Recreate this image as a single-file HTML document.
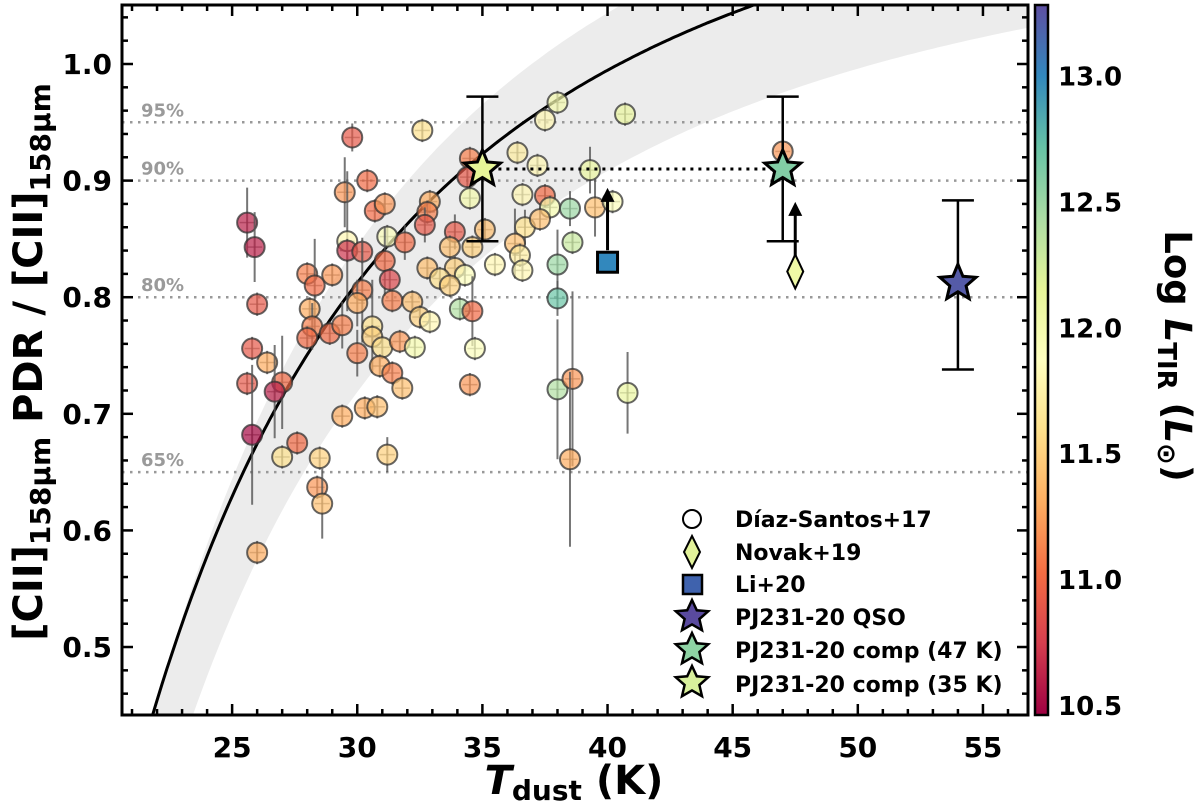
<!DOCTYPE html>
<html><head><meta charset="utf-8"><style>
html,body{margin:0;padding:0;background:#fff;width:1200px;height:805px;overflow:hidden;}
#wrap{position:relative;width:1200px;height:805px;overflow:hidden;}
svg{display:block;font-family:"DejaVu Sans","Liberation Sans",sans-serif;font-weight:bold;}
</style></head><body>
<div id="wrap">
<svg id="chart" width="1200" height="805" viewBox="0 0 1200 805" xmlns="http://www.w3.org/2000/svg" style="position:absolute;left:0;top:0"></svg>
<svg width="1200" height="805" style="position:absolute;left:0;top:0" xmlns="http://www.w3.org/2000/svg" font-family="DejaVu Sans, Liberation Sans, sans-serif" font-weight="bold">
 <text x="574" y="794" font-size="40" text-anchor="middle"><tspan font-style="italic">T</tspan><tspan font-size="28" dy="6">dust</tspan><tspan dy="-6"> (K)</tspan></text>
 <text transform="translate(42,362) rotate(-90)" font-size="40" text-anchor="middle">[CII]<tspan font-size="28" dy="8">158μm</tspan><tspan dy="-8"> PDR / [CII]</tspan><tspan font-size="28" dy="8">158μm</tspan></text>
 <text transform="translate(1165,356) rotate(90)" font-size="37" text-anchor="middle">Log <tspan font-style="italic">L</tspan><tspan font-size="26" dy="7">TIR</tspan><tspan dy="-7"> (</tspan><tspan font-style="italic">L</tspan><tspan font-size="26" dy="7">⊙</tspan><tspan dy="-7">)</tspan></text>
 <g font-size="22">
  <g><circle cx="692" cy="519" r="9" fill="#fff" stroke="#000" stroke-width="2"/><text x="735" y="527">Díaz-Santos+17</text></g>
  <g><path d="M692,536L700,552L692,568L684,552Z" fill="#e2f29a" stroke="#000" stroke-width="2"/><text x="735" y="560">Novak+19</text></g>
  <g><rect x="683" y="575" width="19" height="19" fill="#3f62ad" stroke="#000" stroke-width="2.5"/><text x="735" y="592">Li+20</text></g>
  <g><path d="M692,600L696.8,610.3L708.2,611.3L699.4,619L702,630.2L692,624.4L682,630.2L684.6,619L675.8,611.3L687.2,610.3Z" fill="#5a4a9f" stroke="#000" stroke-width="2.5"/><text x="735" y="625">PJ231-20 QSO</text></g>
  <g><path d="M692,633L696.8,643.3L708.2,644.3L699.4,652L702,663.2L692,657.4L682,663.2L684.6,652L675.8,644.3L687.2,643.3Z" fill="#8ed3a4" stroke="#000" stroke-width="2.5"/><text x="735" y="658">PJ231-20 comp (47 K)</text></g>
  <g><path d="M692,666L696.8,676.3L708.2,677.3L699.4,685L702,696.2L692,690.4L682,696.2L684.6,685L675.8,677.3L687.2,676.3Z" fill="#d8f09c" stroke="#000" stroke-width="2.5"/><text x="735" y="692">PJ231-20 comp (35 K)</text></g>
 </g>
</svg>
</div>
<script>
// ---- data ----
const dsT = [29.8,30.4,29.5,30.7,31.1,25.6,25.9,29.6,29.6,30.2,31.2,31.9,31.1,31.3,28.0,28.3,29.0,26.0,30.2,30.0,31.4,32.2,28.1,28.2,28.0,28.9,29.4,30.6,30.6,31.0,31.7,25.8,26.4,27.0,25.6,26.7,30.0,30.9,31.4,31.8,29.4,30.3,30.8,25.8,27.6,27.0,28.5,31.2,28.4,28.6,26.0,
32.6,38.0,37.5,40.7,34.5,36.4,37.2,34.4,34.5,36.6,37.5,37.7,38.5,39.3,39.5,32.9,32.8,32.7,33.9,35.1,36.7,37.3,38.6,33.7,34.6,36.3,36.5,35.5,36.6,38.0,32.8,33.9,34.3,33.3,33.7,38.0,34.1,34.6,32.5,32.9,32.3,34.7,34.5,38.0,38.6,38.5,40.8,40.2,47.0];
const dsY = [0.937,0.900,0.890,0.874,0.880,0.864,0.843,0.848,0.840,0.839,0.852,0.847,0.831,0.815,0.820,0.810,0.819,0.794,0.806,0.795,0.797,0.796,0.790,0.775,0.765,0.769,0.776,0.775,0.766,0.757,0.762,0.756,0.744,0.727,0.726,0.719,0.752,0.741,0.735,0.722,0.698,0.705,0.706,0.682,0.675,0.663,0.662,0.665,0.637,0.623,0.581,
0.943,0.967,0.952,0.957,0.919,0.924,0.913,0.903,0.885,0.888,0.887,0.877,0.876,0.909,0.877,0.882,0.873,0.862,0.856,0.858,0.860,0.867,0.847,0.843,0.843,0.846,0.836,0.828,0.823,0.828,0.825,0.825,0.819,0.816,0.810,0.799,0.790,0.788,0.783,0.779,0.757,0.756,0.725,0.721,0.730,0.661,0.718,0.882,0.925];
const dsL = [10.9,11.0,11.2,11.0,11.2,10.6,10.6,11.8,10.7,10.9,11.9,11.0,11.0,10.8,11.1,11.0,11.2,10.9,11.1,11.3,11.1,11.4,11.3,11.1,11.0,11.0,11.1,11.6,11.5,11.6,11.2,10.9,11.3,11.0,10.9,10.6,11.1,11.3,11.1,11.4,11.3,11.3,11.4,10.5,11.0,11.6,11.5,11.5,11.2,11.4,11.3,
11.6,12.0,11.8,12.1,11.1,11.7,11.8,10.9,12.0,11.8,11.0,12.0,12.5,12.1,11.4,11.3,11.1,10.9,10.9,11.4,11.6,11.4,12.3,11.4,11.5,11.4,11.7,11.8,11.8,12.5,11.4,11.5,11.9,11.6,11.5,12.7,12.4,11.0,11.5,11.8,12.0,11.9,11.2,12.4,11.2,11.3,12.1,11.9,11.2];
const dsErr = [0.012,0.01,0.03,0.01,0.01,0.03,0.03,0.06,0.01,0.01,0.01,0.015,0.03,0.01,0.01,0.04,0.01,0.01,0.045,0.02,0.01,0.01,0.01,0.02,0.01,0.01,0.02,0.04,0.01,0.01,0.01,0.01,0.01,0.04,0.01,0.04,0.02,0.01,0.01,0.01,0.01,0.01,0.01,0.06,0.01,0.01,0.01,0.015,0.01,0.03,0.01,
0.01,0.01,0.01,0.01,0.01,0.01,0.01,0.01,0.01,0.01,0.01,0.01,0.015,0.02,0.025,0.01,0.01,0.015,0.015,0.01,0.015,0.01,0.01,0.01,0.01,0.03,0.01,0.01,0.01,0.03,0.01,0.01,0.01,0.01,0.01,0.015,0.01,0.03,0.01,0.01,0.01,0.01,0.01,0.06,0.075,0.075,0.035,0.01,0.01];
const novak = {T:47.5, y:0.822, L:12.05, lim:0.88};
const li20 = {T:40.0, y:0.830, L:13.0, lim:0.892};
const qso = {T:54.0, y:0.812, L:13.22, lo:0.738, hi:0.883};
const comp47 = {T:47.0, y:0.910, L:12.6, lo:0.848, hi:0.972};
const comp35 = {T:35.0, y:0.910, L:12.15, lo:0.848, hi:0.972};
const xTicks = [25,30,35,40,45,50,55];
const yTicks = [0.5,0.6,0.7,0.8,0.9,1.0];
const cbTicks = [10.5,11.0,11.5,12.0,12.5,13.0];
const pctLines = [0.95,0.90,0.80,0.65];
const pctLabels = ["95%","90%","80%","65%"];

// ---- scales ----
const PL=122, PR=1028, PT=5, PB=715;
const X0=20.6, X1=56.8, Y0=0.4417, Y1=1.0506;
const sx = t => PL + (t-X0)/(X1-X0)*(PR-PL);
const sy = v => PB - (v-Y0)/(Y1-Y0)*(PB-PT);
const CB={x:1035,w:13,t:5,b:715,v0:10.46,v1:13.28};
const cy = v => CB.b - (v-CB.v0)/(CB.v1-CB.v0)*(CB.b-CB.t);
const stops=["#9e0142","#d53e4f","#f46d43","#fdae61","#fee08b","#ffffbf","#e6f598","#abdda4","#66c2a5","#3288bd","#5e4fa2"];
function hex(h){return [1,3,5].map(i=>parseInt(h.substr(i,2),16));}
function cmap(v){let f=(v-CB.v0)/(CB.v1-CB.v0);f=Math.max(0,Math.min(1,f))*10;const i=Math.min(9,Math.floor(f)),r=f-i;const a=hex(stops[i]),b=hex(stops[i+1]);return "rgb("+a.map((c,k)=>Math.round(c+(b[k]-c)*r)).join(",")+")";}

const svg=document.getElementById('chart');
const NS="http://www.w3.org/2000/svg";
function el(tag,attrs,parent){const e=document.createElementNS(NS,tag);for(const k in attrs)e.setAttribute(k,attrs[k]);(parent||svg).appendChild(e);return e;}

const defs=el('defs',{});
const cp=el('clipPath',{id:'clip'},defs);el('rect',{x:PL,y:PT,width:PR-PL,height:PB-PT},cp);
const plot=el('g',{'clip-path':'url(#clip)'});



const upper=t=>1.30-410/(t*t), lower=t=>1.152-390/(t*t);
let d="";for(let t=20.6;t<=56.8;t+=0.2)d+=(d?"L":"M")+sx(t).toFixed(1)+","+sy(Math.min(upper(t),1.2)).toFixed(1);
for(let t=56.8;t>=20.6;t-=0.2)d+="L"+sx(t).toFixed(1)+","+sy(Math.max(lower(t),0.3)).toFixed(1);
const band=el('path',{d:d+"Z",fill:"#ececec"},plot);



pctLines.forEach((v,i)=>{
 const l=el('line',{x1:PL,x2:PR,y1:sy(v),y2:sy(v),stroke:"#999","stroke-width":2.5,"stroke-dasharray":"2.5,5.5"},plot);
 
 
 const t=el('text',{x:141,y:sy(v)-6,fill:"#9a9a9a","font-size":18},plot);t.textContent=pctLabels[i];
 
 
});

const curve=t=>1.229-375/(t*t);
d="";for(let t=21;t<=50;t+=0.1)d+=(d?"L":"M")+sx(t).toFixed(1)+","+sy(curve(t)).toFixed(1);
const cv=el('path',{d:d,fill:"none",stroke:"#000","stroke-width":3},plot);



for(let i=0;i<dsT.length;i++){
 const g=el('g',{},plot);
 
 
 el('line',{x1:sx(dsT[i]),x2:sx(dsT[i]),y1:sy(dsY[i]-dsErr[i]),y2:sy(dsY[i]+dsErr[i]),stroke:"#555","stroke-width":2,opacity:0.8},g);
 el('line',{x1:sx(dsT[i]-0.3),x2:sx(dsT[i]+0.3),y1:sy(dsY[i]),y2:sy(dsY[i]),stroke:"#555","stroke-width":1.5,opacity:0.6},g);
 el('circle',{cx:sx(dsT[i]),cy:sy(dsY[i]),r:10,fill:cmap(dsL[i]),"fill-opacity":0.7,stroke:"#333","stroke-opacity":0.75,"stroke-width":2},g);
}

function star(cx,cy,R,fill,name){
 let p="";for(let k=0;k<10;k++){const a=-Math.PI/2+k*Math.PI/5,r=k%2?R*0.45:R;p+=(k?"L":"M")+(cx+r*Math.cos(a)).toFixed(1)+","+(cy+r*Math.sin(a)).toFixed(1);}
 const s=el('path',{d:p+"Z",fill:fill,stroke:"#000","stroke-width":3,"stroke-linejoin":"miter"});
 
 
 return s;
}
function errbar(o,name){
 const g=el('g',{});
 
 
 const x=sx(o.T);
 el('line',{x1:x,x2:x,y1:sy(o.lo),y2:sy(o.hi),stroke:"#000","stroke-width":2.5},g);
 el('line',{x1:x-16,x2:x+16,y1:sy(o.lo),y2:sy(o.lo),stroke:"#000","stroke-width":2.5},g);
 el('line',{x1:x-16,x2:x+16,y1:sy(o.hi),y2:sy(o.hi),stroke:"#000","stroke-width":2.5},g);
}
function arrow(o,name){
 const g=el('g',{});
 
 
 const x=sx(o.T),y0=sy(o.y)-12,y1=sy(o.lim);
 el('line',{x1:x,x2:x,y1:y0,y2:y1+10,stroke:"#000","stroke-width":3},g);
 el('path',{d:`M${x-7},${y1+12}L${x+7},${y1+12}L${x},${y1-2}Z`,fill:"#000"},g);
}
const dl=el('line',{x1:sx(comp35.T),x2:sx(comp47.T),y1:sy(comp35.y),y2:sy(comp35.y),stroke:"#000","stroke-width":3,"stroke-dasharray":"3,5"});


arrow(li20,'li20-limit-arrow');
arrow(novak,'novak-limit-arrow');
errbar(comp35,'comp35-errorbar');errbar(comp47,'comp47-errorbar');errbar(qso,'qso-errorbar');
const sq=el('rect',{x:sx(li20.T)-10,y:sy(li20.y)-10,width:20,height:20,fill:cmap(li20.L),stroke:"#000","stroke-width":3});


const nx=sx(novak.T),ny=sy(novak.y);
const dm=el('path',{d:`M${nx},${ny-17}L${nx+8},${ny}L${nx},${ny+17}L${nx-8},${ny}Z`,fill:cmap(novak.L),stroke:"#000","stroke-width":2});


star(sx(comp35.T),sy(comp35.y),19,cmap(comp35.L),'comp35-star');
star(sx(comp47.T),sy(comp47.y),19,cmap(comp47.L),'comp47-star');
star(sx(qso.T),sy(qso.y),19,cmap(qso.L),'qso-star');

const fr=el('rect',{x:PL,y:PT,width:PR-PL,height:PB-PT,fill:"none",stroke:"#000","stroke-width":3});


const tk=el('g',{stroke:"#000","stroke-width":2.5});


for(let t=21;t<=56;t++){const x=sx(t),L=t%5?6:11;el('line',{x1:x,x2:x,y1:PB,y2:PB-L},tk);el('line',{x1:x,x2:x,y1:PT,y2:PT+L},tk);}
for(let k=23;k<=52;k++){const v=k*0.02,y=sy(v),L=k%5?6:11;el('line',{x1:PL,x2:PL+L,y1:y,y2:y},tk);el('line',{x1:PR,x2:PR-L,y1:y,y2:y},tk);}
xTicks.forEach(t=>{const e=el('text',{x:sx(t),y:757,"font-size":28,"text-anchor":"middle"});e.textContent=t;
 
 });
yTicks.forEach(v=>{const e=el('text',{x:112,y:sy(v)+10,"font-size":28,"text-anchor":"end"});e.textContent=v.toFixed(1);
 
 });

const lg=el('linearGradient',{id:'cbg',x1:0,y1:1,x2:0,y2:0},defs);
stops.forEach((c,i)=>el('stop',{offset:(i/10),"stop-color":c},lg));
const cb=el('rect',{x:CB.x,y:CB.t,width:CB.w,height:CB.b-CB.t,fill:"url(#cbg)",stroke:"#000","stroke-width":2.5});


for(let k=105;k<=132;k++){const v=k/10,y=cy(v),L=k%5?5:9;el('line',{x1:CB.x+CB.w,x2:CB.x+CB.w-L,y1:y,y2:y},tk);}
cbTicks.forEach(v=>{const e=el('text',{x:1058,y:cy(v)+10,"font-size":26});e.textContent=v.toFixed(1);
 
 });
</script>
</body></html>
